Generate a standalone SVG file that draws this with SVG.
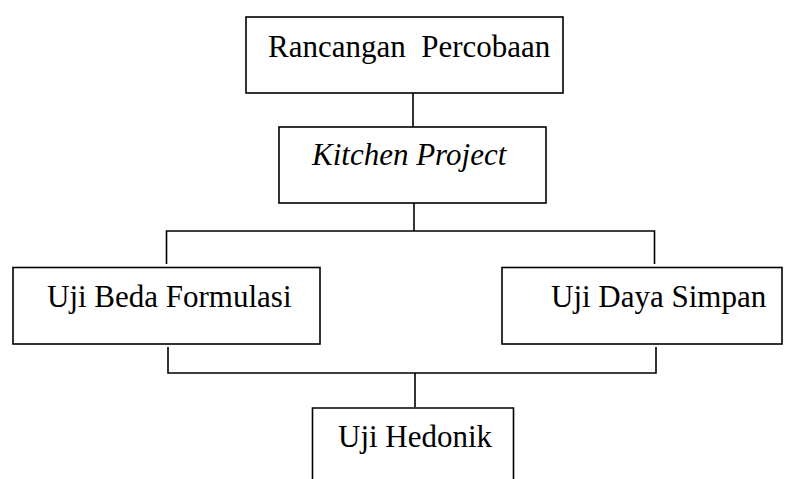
<svg xmlns="http://www.w3.org/2000/svg" width="795" height="479" viewBox="0 0 795 479">
<style>
.box{fill:#fff;stroke:#000;stroke-width:1.6}
.ln{fill:none;stroke:#000;stroke-width:1.6}
text{font-family:"Liberation Serif","Times New Roman",serif;font-size:31px;fill:#000}
</style>
<rect width="795" height="479" fill="#fff"/>
<g id="connectors">
<line class="ln" x1="413" y1="93" x2="413" y2="127"/>
<polyline class="ln" points="166.5,264 166.5,231 654.5,231 654.5,264"/>
<line class="ln" x1="414" y1="203" x2="414" y2="231"/>
<polyline class="ln" points="168,347 168,373 656,373 656,347"/>
<line class="ln" x1="415" y1="373" x2="415" y2="407"/>
</g>
<g id="rancangan">
<rect class="box" x="246" y="17" width="317" height="76"/>
<text x="268" y="57" xml:space="preserve">Rancangan  Percobaan</text>
</g>
<g id="kitchen">
<rect class="box" x="279" y="127" width="267" height="76"/>
<text x="312" y="165" font-style="italic" font-size="33">Kitchen Project</text>
</g>
<g id="beda">
<rect class="box" x="13" y="267.5" width="307" height="76.5"/>
<text x="47" y="307">Uji Beda Formulasi</text>
</g>
<g id="daya">
<rect class="box" x="502" y="267.5" width="280" height="76.5"/>
<text x="551" y="307">Uji Daya Simpan</text>
</g>
<g id="hedonik">
<path class="ln" d="M312.5,480 V408 H513.5 V480"/>
<text x="338" y="447">Uji Hedonik</text>
</g>
</svg>
